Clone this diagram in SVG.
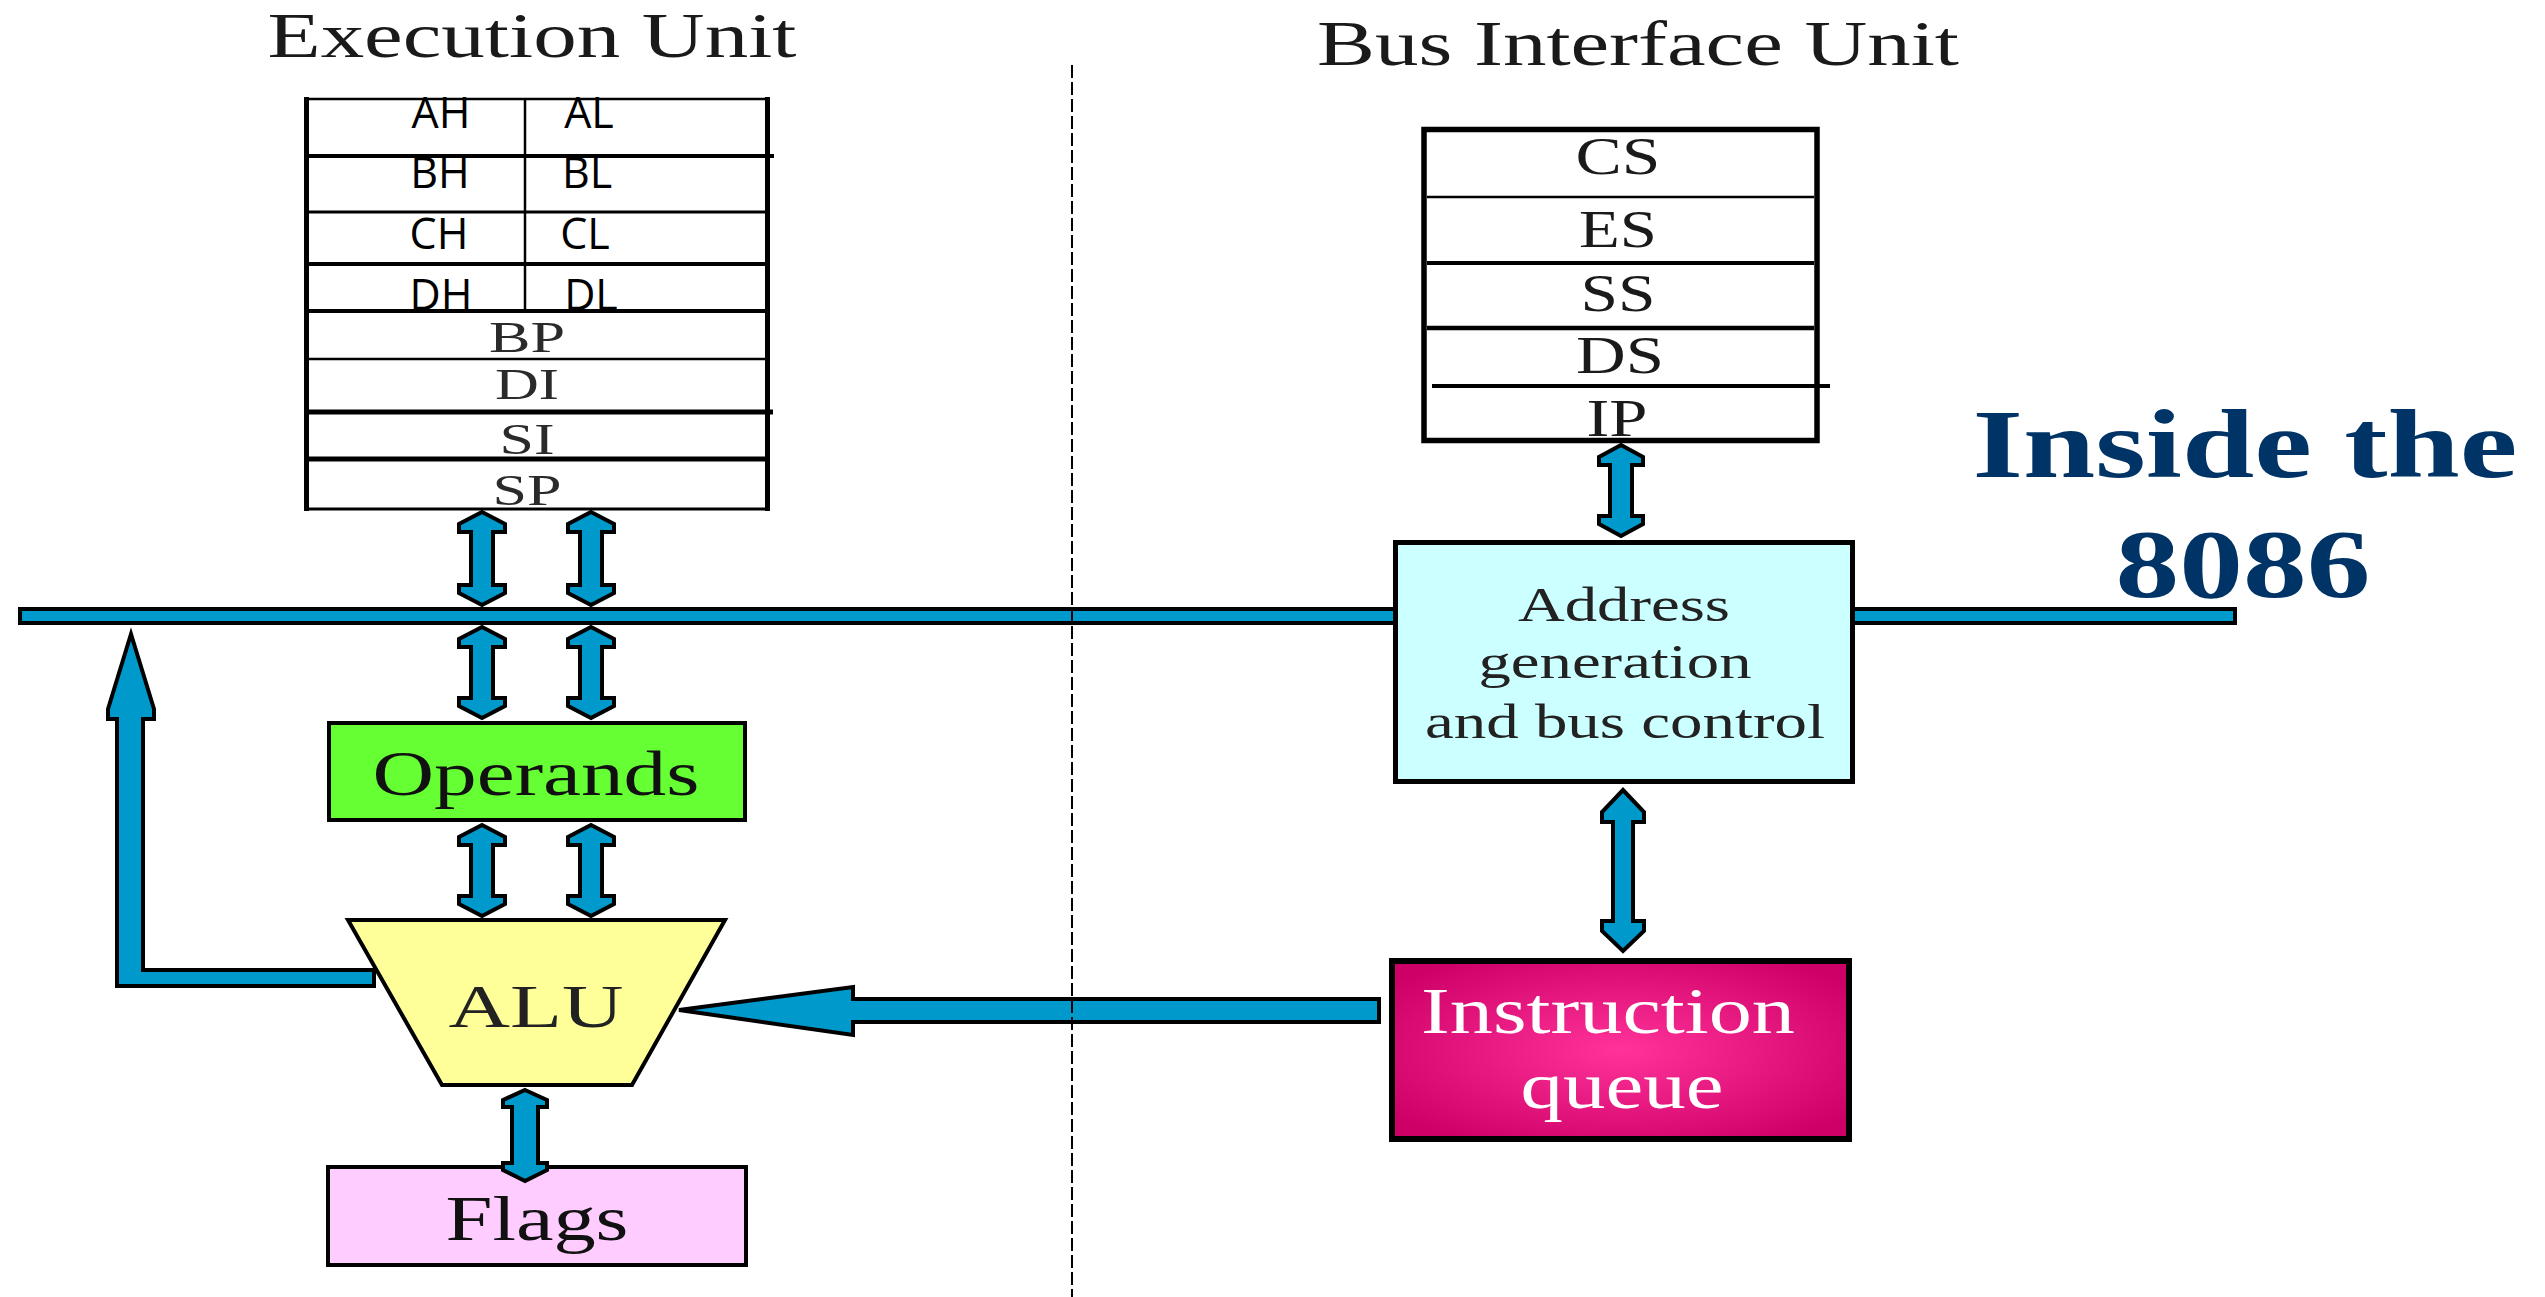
<svg xmlns="http://www.w3.org/2000/svg" width="2545" height="1297" viewBox="0 0 2545 1297">
<defs>
<radialGradient id="iqGrad" cx="0.5" cy="0.5" r="0.62">
<stop offset="0" stop-color="#FF3399"/>
<stop offset="1" stop-color="#CC0066"/>
</radialGradient>
<style>
.serif{font-family:"Liberation Serif","Times New Roman",serif;}
.sans{font-family:"Open Sans","Liberation Sans",sans-serif;}
.blue{fill:#0099CC;stroke:#000;stroke-width:4;stroke-linejoin:miter;}
.ln{stroke:#000;fill:none;}
.box{stroke:#000;stroke-width:4;}
.head{font-size:63px;fill:#1a1a1a;}
.reg8{font-size:43px;fill:#000;}
.reg16{font-size:45px;fill:#2a2a2a;}
.seg{font-size:52px;fill:#1a1a1a;}
.lbl{font-size:63px;fill:#111;}
</style>
</defs>
<rect x="0" y="0" width="2545" height="1297" fill="#fff"/>

<g id="titles" class="serif" text-anchor="middle">
<text class="head" x="532" y="57" textLength="529" lengthAdjust="spacingAndGlyphs">Execution Unit</text>
<text class="head" x="1638" y="65" textLength="642" lengthAdjust="spacingAndGlyphs">Bus Interface Unit</text>
</g>

<g id="internal-bus">
<rect class="blue" x="20" y="609" width="2215" height="14"/>
</g>

<g id="eu-registers">
<rect x="306" y="99" width="462" height="410" fill="#fff"/>
<line class="ln" x1="304" y1="99" x2="770" y2="99" stroke-width="2.5"/>
<line class="ln" x1="306.5" y1="97" x2="306.5" y2="511" stroke-width="5"/>
<line class="ln" x1="767.5" y1="97" x2="767.5" y2="511" stroke-width="5"/>
<line class="ln" x1="304" y1="156" x2="774" y2="156" stroke-width="4"/>
<line class="ln" x1="304" y1="212" x2="770" y2="212" stroke-width="3"/>
<line class="ln" x1="304" y1="264" x2="770" y2="264" stroke-width="4"/>
<line class="ln" x1="304" y1="311" x2="770" y2="311" stroke-width="4"/>
<line class="ln" x1="304" y1="359" x2="770" y2="359" stroke-width="2.5"/>
<line class="ln" x1="304" y1="412" x2="773" y2="412" stroke-width="5"/>
<line class="ln" x1="304" y1="459" x2="770" y2="459" stroke-width="5"/>
<line class="ln" x1="304" y1="509" x2="770" y2="509" stroke-width="3"/>
<line class="ln" x1="525" y1="99" x2="525" y2="311" stroke-width="2.5"/>
<g class="sans reg8" text-anchor="middle">
<text x="441" y="128">AH</text><text x="589" y="128">AL</text>
<text x="440" y="188">BH</text><text x="587" y="188">BL</text>
<text x="439" y="249">CH</text><text x="585" y="249">CL</text>
<text x="441" y="310">DH</text><text x="591" y="310">DL</text>
</g>
<g class="serif reg16" text-anchor="middle">
<text x="527" y="352" textLength="76" lengthAdjust="spacingAndGlyphs">BP</text>
<text x="527" y="399" textLength="64" lengthAdjust="spacingAndGlyphs">DI</text>
<text x="527" y="454" textLength="55" lengthAdjust="spacingAndGlyphs">SI</text>
<text x="527" y="505" textLength="69" lengthAdjust="spacingAndGlyphs">SP</text>
</g>
</g>

<g id="biu-registers">
<rect x="1424" y="129.5" width="393" height="311" fill="#fff" stroke="#000" stroke-width="5.5"/>
<line class="ln" x1="1427" y1="197" x2="1814" y2="197" stroke-width="2.5"/>
<line class="ln" x1="1427" y1="263" x2="1814" y2="263" stroke-width="4"/>
<line class="ln" x1="1427" y1="328" x2="1814" y2="328" stroke-width="4.5"/>
<line class="ln" x1="1432" y1="386" x2="1830" y2="386" stroke-width="4"/>
<g class="serif seg" text-anchor="middle">
<text x="1618" y="174" textLength="85" lengthAdjust="spacingAndGlyphs">CS</text>
<text x="1618" y="247" textLength="78" lengthAdjust="spacingAndGlyphs">ES</text>
<text x="1618" y="311" textLength="75" lengthAdjust="spacingAndGlyphs">SS</text>
<text x="1620" y="373" textLength="88" lengthAdjust="spacingAndGlyphs">DS</text>
<text x="1617" y="436" textLength="61" lengthAdjust="spacingAndGlyphs">IP</text>
</g>
</g>

<g id="address-generation">
<rect x="1395.5" y="542.5" width="457" height="239" fill="#CCFFFF" stroke="#000" stroke-width="5"/>
<g class="serif" text-anchor="middle" font-size="48" fill="#222">
<text x="1624" y="621" textLength="212" lengthAdjust="spacingAndGlyphs">Address</text>
<text x="1615" y="678" textLength="273" lengthAdjust="spacingAndGlyphs">generation</text>
<text x="1625" y="738" textLength="400" lengthAdjust="spacingAndGlyphs">and bus control</text>
</g>
</g>

<g id="instruction-queue">
<rect x="1392" y="961" width="457" height="178" fill="url(#iqGrad)" stroke="#000" stroke-width="6"/>
<g class="serif" text-anchor="middle" font-size="65" fill="#fff">
<text x="1608" y="1033" textLength="374" lengthAdjust="spacingAndGlyphs">Instruction</text>
<text x="1622" y="1108" textLength="203" lengthAdjust="spacingAndGlyphs">queue</text>
</g>
</g>

<g id="operands">
<rect class="box" x="329" y="723" width="416" height="97" fill="#66FF33"/>
<text class="serif lbl" x="536" y="795" text-anchor="middle" textLength="327" lengthAdjust="spacingAndGlyphs">Operands</text>
</g>

<g id="alu">
<polygon class="box" points="348,920 725,920 632,1085 442,1085" fill="#FFFF99"/>
<text class="serif" x="536" y="1027" font-size="62" fill="#222" text-anchor="middle" textLength="175" lengthAdjust="spacingAndGlyphs">ALU</text>
</g>

<g id="flags">
<rect class="box" x="328" y="1167" width="418" height="98" fill="#FFCCFF"/>
<text class="serif lbl" x="537" y="1240" text-anchor="middle" textLength="183" lengthAdjust="spacingAndGlyphs">Flags</text>
</g>

<g id="inside-title" class="serif" font-weight="bold" font-size="98" fill="#003366" text-anchor="middle">
<text x="2245" y="477" textLength="545" lengthAdjust="spacingAndGlyphs">Inside the</text>
<text x="2243" y="597" textLength="255" lengthAdjust="spacingAndGlyphs">8086</text>
</g>

<g id="connectors">
<polygon class="blue" points="482,512 505,524 505,532 493,532 493,585 505,585 505,593 482,605 459,593 459,585 471,585 471,532 459,532 459,524"/>
<polygon class="blue" points="591,512 614,524 614,532 602,532 602,585 614,585 614,593 591,605 568,593 568,585 580,585 580,532 568,532 568,524"/>
<polygon class="blue" points="482,627 505,639 505,647 493,647 493,698 505,698 505,706 482,718 459,706 459,698 471,698 471,647 459,647 459,639"/>
<polygon class="blue" points="591,627 614,639 614,647 602,647 602,698 614,698 614,706 591,718 568,706 568,698 580,698 580,647 568,647 568,639"/>
<polygon class="blue" points="482,825 505,837 505,845 493,845 493,896 505,896 505,904 482,916 459,904 459,896 471,896 471,845 459,845 459,837"/>
<polygon class="blue" points="591,825 614,837 614,845 602,845 602,896 614,896 614,904 591,916 568,904 568,896 580,896 580,845 568,845 568,837"/>
<polygon class="blue" points="1621,445 1643,457 1643,465 1632,465 1632,516 1643,516 1643,524 1621,536 1599,524 1599,516 1610,516 1610,465 1599,465 1599,457"/>
<polygon class="blue" points="1623,790 1644,812 1644,822 1633,822 1633,921 1644,921 1644,931 1623,951 1602,931 1602,921 1613,921 1613,822 1602,822 1602,812"/>
<polygon class="blue" points="525,1090 547,1100 547,1107 538,1107 538,1163 547,1163 547,1170 525,1181 503,1170 503,1163 512,1163 512,1107 503,1107 503,1100"/>
<polygon class="blue" points="131,634 154,709 154,719 143,719 143,970 374,970 374,986 117,986 117,719 108,719 108,709"/>
<polygon class="blue" points="679,1010 853,987 853,999 1379,999 1379,1022 853,1022 853,1035"/>
</g>

<g id="divider">
<line x1="1072" y1="65" x2="1072" y2="1297" stroke="#000" stroke-width="2" stroke-dasharray="13 4"/>
</g>
</svg>
